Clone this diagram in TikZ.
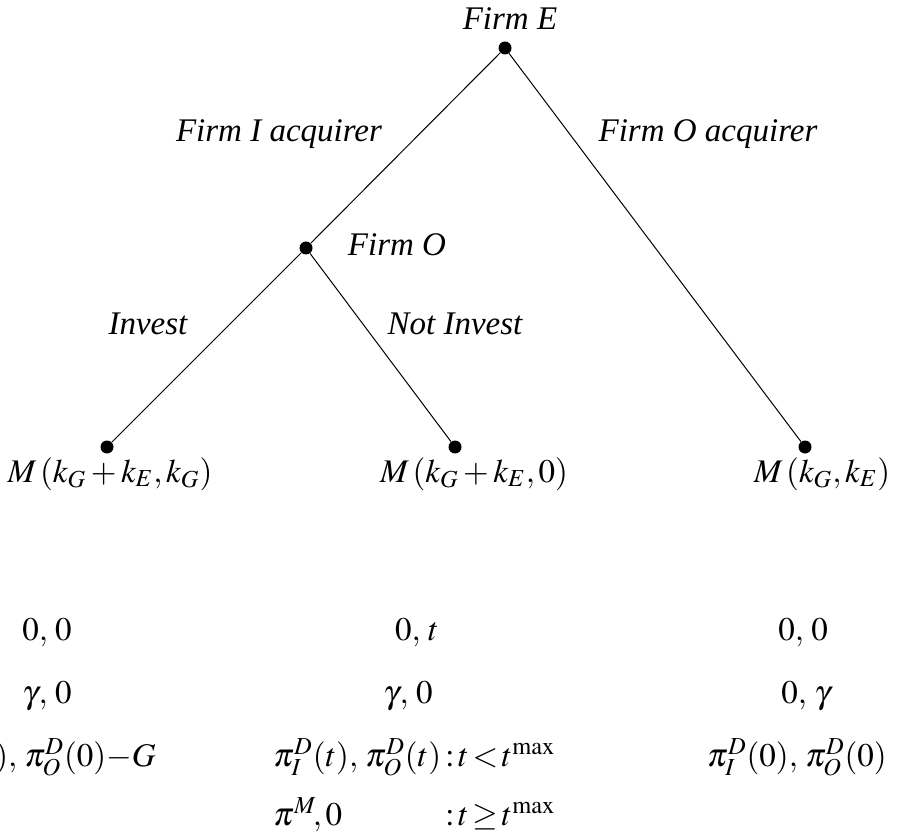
\documentclass[tikz,border=0pt]{standalone}
\usepackage{mathptmx}
\usepackage[no-math]{fontspec}
\setmainfont{Liberation Serif}
\usetikzlibrary{positioning}

\begin{document}
\begin{tikzpicture}[
        x=0.5pt, y=-0.5pt,
        font=\fontsize{16.5}{20}\selectfont,
        dot/.style={circle, fill=black, inner sep=0pt, minimum size=6.5pt},
        player/.style={font=\fontsize{16.5}{20}\selectfont\itshape, anchor=base, inner sep=0pt},
        move/.style={font=\fontsize{16.5}{20}\selectfont\itshape, anchor=base, inner sep=0pt},
        outcome/.style={anchor=base, inner sep=0pt},
        payoff/.style={anchor=base, inner sep=0pt},
        branch/.style={draw, line width=0.5pt}
    ]
        \useasboundingbox (0,0) rectangle (898,833);

        % Decision nodes
        \node[dot] (root) at (505,48) {};
        \node[dot] (fo) at (306,248) {};

        % Terminal nodes
        \node[dot] (leafa) at (107,447) {};
        \node[dot] (leafb) at (455,447) {};
        \node[dot] (leafc) at (805,447) {};

        % Branches
        \draw[branch] (root) -- (fo);
        \draw[branch] (root) -- (leafc);
        \draw[branch] (fo) -- (leafa);
        \draw[branch] (fo) -- (leafb);

        % Players
        \node[player] (pE) at (510,30) {Firm E};
        \node[player] (pO) at (397,256) {Firm O};

        % Moves
        \node[move] (mI) at (279,142) {Firm I acquirer};
        \node[move] (mO) at (708,142) {Firm O acquirer};
        \node[move] (mInv) at (148,335) {Invest};
        \node[move] (mNot) at (455,335) {Not Invest};

        % Outcomes
        \node[outcome] (oa) at (110,482) {$M\,(k_G + k_E, k_G)$};
        \node[outcome] (ob) at (474,482) {$M\,(k_G + k_E, 0)$};
        \node[outcome] (oc) at (822,482) {$M\,(k_G, k_E)$};

        % Payoffs: left column
        \node[payoff] (a1) at (47,640) {$0,\, 0$};
        \node[payoff] (a2) at (47,703) {$\gamma,\, 0$};
        \node[payoff, anchor=base east] (a3) at (156,766) {$\pi_I^D(0),\, \pi_O^D(0) {-} G$};

        % Payoffs: middle column
        \node[payoff] (b1) at (417,640) {$0,\, t$};
        \node[payoff] (b2) at (408,703) {$\gamma,\, 0$};
        \node[payoff, anchor=base west] (b3) at (273,766) {$\pi_I^D(t),\, \pi_O^D(t)$};
        \node[payoff, anchor=base west] (b3c) at (445,766) {${:}\,t\,{<}\,t^{\max}$};
        \node[payoff, anchor=base west] (b4) at (273,825) {$\pi^M\!,0$};
        \node[payoff, anchor=base west] (b4c) at (445,825) {${:}\,t\,{\geq}\,t^{\max}$};

        % Payoffs: right column
        \node[payoff] (c1) at (803,640) {$0,\, 0$};
        \node[payoff] (c2) at (806,703) {$0,\, \gamma$};
        \node[payoff] (c3) at (797,766) {$\pi_I^D(0),\, \pi_O^D(0)$};
    \end{tikzpicture}
\end{document}
